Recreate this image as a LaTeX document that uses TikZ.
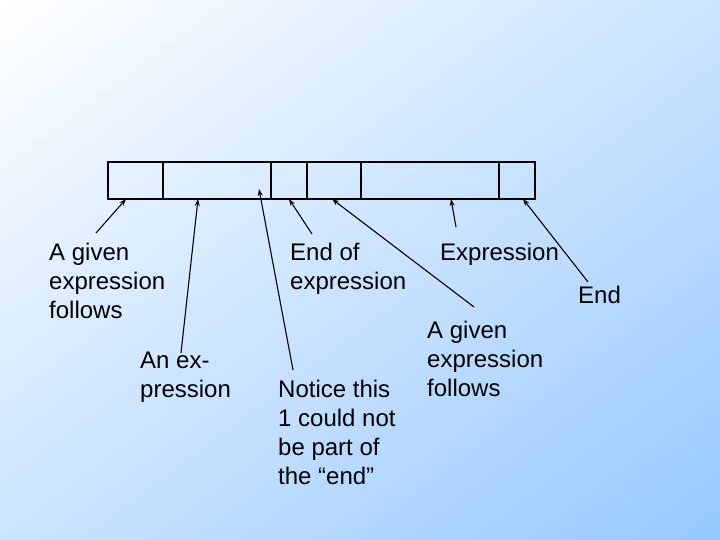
\documentclass[tikz,border=0pt]{standalone}
\usepackage{fontspec}
\setmainfont{Liberation Sans}
\usetikzlibrary{arrows.meta}
\definecolor{slideblue}{RGB}{150,200,255}
\begin{document}
\begin{tikzpicture}
[x=1pt,y=-1pt,
  celldecorate/.style={shape=rectangle,draw,line width=1.1pt,minimum height=37pt,inner sep=0pt},%
  textdecorate/.style={align=left,anchor=base west,inner sep=0pt,font=\fontsize{24}{28.8}\selectfont},%
  arrowdecorate/.style={-{Stealth[length=7pt,width=5pt]},line width=1.1pt}]
% background
\useasboundingbox (0,0) rectangle (720,540);
\begin{scope}
\clip (0,0) rectangle (720,540);
\begin{scope}[transform canvas={shift={(360,270)},rotate=-53.13}]
\shade[left color=white,right color=slideblue] (-432,-460) rectangle (432,460);
\end{scope}
\end{scope}
% cells of the string
\node (c1) at (135.5,180.5) [celldecorate,minimum width=55pt] {};
\node (c2) at (217,180.5) [celldecorate,minimum width=108pt] {};
\node (c3) at (289,180.5) [celldecorate,minimum width=36pt] {};
\node (c4) at (334,180.5) [celldecorate,minimum width=54pt] {};
\node (c5) at (430,180.5) [celldecorate,minimum width=138pt] {};
\node (c6) at (517,180.5) [celldecorate,minimum width=36pt] {};
% labels (placed by the baseline of their last line)
\node (given1) at (49,318) [textdecorate] {A given\\expression\\follows};
\node (anex) at (140,397) [textdecorate] {An ex-\\pression};
\node (endof) at (290,289) [textdecorate] {End of\\expression};
\node (expr) at (440,260) [textdecorate] {Expression};
\node (end) at (578,303) [textdecorate] {End};
\node (given2) at (427,396) [textdecorate] {A given\\expression\\follows};
\node (notice) at (278,484) [textdecorate] {Notice this\\1 could not\\be part of\\the “end”};
% arrow ends
\coordinate (t1) at (96,233);  \coordinate (h1) at (126,199);
\coordinate (t2) at (181,353); \coordinate (h2) at (198,199);
\coordinate (t3) at (293,370); \coordinate (h3) at (259,189);
\coordinate (t4) at (312,234); \coordinate (h4) at (289,199);
\coordinate (t5) at (474,307); \coordinate (h5) at (332,199);
\coordinate (t6) at (456,227); \coordinate (h6) at (451,199);
\coordinate (t7) at (588,282); \coordinate (h7) at (523,199);
% arrows
\path
(t1) edge[arrowdecorate] (h1)
(t2) edge[arrowdecorate] (h2)
(t3) edge[arrowdecorate] (h3)
(t4) edge[arrowdecorate] (h4)
(t5) edge[arrowdecorate] (h5)
(t6) edge[arrowdecorate] (h6)
(t7) edge[arrowdecorate] (h7);
\end{tikzpicture}
\end{document}
